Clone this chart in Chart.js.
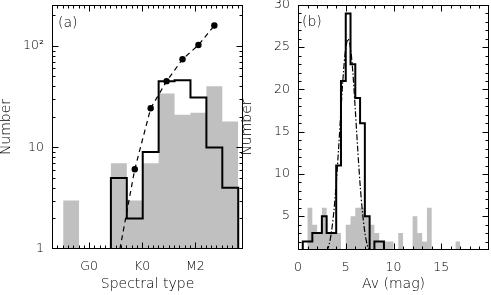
<!DOCTYPE html>
<html><head><meta charset="utf-8">
<script src="https://cdn.jsdelivr.net/npm/chart.js@4.4.1/dist/chart.umd.min.js"></script>
<style>
html,body{margin:0;padding:0;background:#fff;}
#wrap{position:relative;width:491px;height:295px;overflow:hidden;background:#fff;}
.box{position:absolute;top:0;height:295px;}
#ba{left:0;width:250px;}
#bb{left:241px;width:250px;}
canvas{display:block;}
</style></head><body>
<div id="wrap"><div class="box" id="ba"><canvas id="ca" width="250" height="295" style="width:250px;height:295px"></canvas></div><div class="box" id="bb"><canvas id="cb" width="250" height="295" style="width:250px;height:295px"></canvas></div></div>
<script>
// ---------- Panel (a): spectral type ----------
const specCenters = [-3.4, -0.4, 2.6, 5.6, 8.6, 11.6, 14.6, 17.6, 20.6, 23.6, 26.6];
const specGray    = [3, 0, 0, 7, 3, 7, 34, 21, 22, 40, 18];
const specBlack   = [0, 0, 0, 5, 2, 9, 45, 46, 31, 10, 4];
const modelX      = [5.8, 8.6, 11.6, 14.6, 17.6, 20.6, 23.6];
const modelY      = [1, 6.1, 24.3, 45, 74, 102, 159];
const modelDot    = [false, true, true, true, true, true, true];
const specTickValues = [0, 10, 20];
const specTickLabels = ['G0', 'K0', 'M2'];
const logTickValues  = [1, 10, 100];
const logTickLabels  = ['1', '10', '10²'];

// ---------- Panel (b): extinction ----------
const avBinStarts = [0,0.5,1,1.5,2,2.5,3,3.5,4,4.5,5,5.5,6,6.5,7,7.5,8,8.5,9,9.5,10,10.5,11,11.5,12,12.5,13,13.5,14,14.5,15,15.5,16,16.5];
const avGray      = [0,0,6,4,3,6,3,3,3,0,4,5,6,6,5,4,3,2,2,2,0,3,0,0,5,3,2,6,0,0,0,0,0,2];
const avBlack     = [0,2,2,3,3,5,3,3,11,21,29,23,19,16,5,0,2,2];
const fitX = [3,3.25,3.5,3.75,4,4.25,4.5,4.75,5,5.25,5.5,5.75,6,6.25,6.5,6.75,7,7.25,7.5];
const fitY = [0.8,1.6,3.1,5.5,8.8,13,17.6,21.9,24.9,26,24.9,21.9,17.6,13,8.8,5.5,3.1,1.6,0.8];
const avTickValues  = [0, 5, 10, 15];
const numTickValues = [5, 10, 15, 20, 25, 30];

const FONT = 'DejaVu Sans';
const TXT = '#000';
const GRAY = '#c0c0c0';

function fillPath(starts, counts, width, floor) {
  const pts = [{x: starts[0], y: floor}];
  starts.forEach((s, i) => {
    const v = counts[i] > 0 ? counts[i] : floor;
    pts.push({x: s, y: v}, {x: s + width, y: v});
  });
  pts.push({x: starts[starts.length - 1] + width, y: floor});
  return pts;
}
function stepPath(startX, starts, counts, width, floor) {
  const pts = [];
  starts.forEach((s, i) => {
    const v = counts[i] > 0 ? counts[i] : floor;
    pts.push({x: i === 0 ? startX : s, y: v}, {x: s + width, y: v});
  });
  pts.push({x: starts[starts.length - 1] + width, y: floor});
  return pts;
}
function range(a, b, st) { const r = []; for (let v = a; v <= b + 1e-9; v += st) r.push(+v.toFixed(6)); return r; }

const framePlugin = {
  id: 'frame',
  afterDatasetsDraw(chart, args, o) {
    const {ctx, chartArea: a} = chart;
    const xs = chart.scales.x, ys = chart.scales.y;
    const L = Math.round(a.left) + 0.5, R = Math.round(a.right) - 0.5;
    const T = Math.round(a.top) + 0.5, B = Math.round(a.bottom) - 0.5;
    ctx.save();
    ctx.strokeStyle = '#000';
    ctx.lineWidth = 1;
    ctx.beginPath();
    const tx = (vals, len) => vals.forEach(v => {
      const p = Math.round(xs.getPixelForValue(v)) + 0.5;
      if (p < L + 1 || p > R - 1) return;
      ctx.moveTo(p, B); ctx.lineTo(p, B - len);
      ctx.moveTo(p, T); ctx.lineTo(p, T + len);
    });
    const ty = (vals, len) => vals.forEach(v => {
      const p = Math.round(ys.getPixelForValue(v)) + 0.5;
      if (p < T + 1 || p > B - 1) return;
      ctx.moveTo(L, p); ctx.lineTo(L + len, p);
      ctx.moveTo(R, p); ctx.lineTo(R - len, p);
    });
    tx(o.xMajor, 6); tx(o.xMinor, 3);
    ty(o.yMajor, 6); ty(o.yMinor, 3);
    ctx.stroke();
    ctx.strokeRect(L, T, R - L, B - T);
    ctx.fillStyle = TXT;
    ctx.font = '300 14px "' + FONT + '"';
    ctx.textBaseline = 'middle';
    ctx.textAlign = 'left';
    ctx.fillText(o.label, a.left + o.labelDx, a.top + o.labelDy);
    ctx.restore();
  }
};

function fixAxis(size, horiz) {
  return s => {
    if (horiz) s.height = size; else s.width = size;
    s.paddingTop = 0; s.paddingBottom = 0; s.paddingLeft = 0; s.paddingRight = 0;
  };
}
const tickFont = {family: FONT, size: 12.5, weight: '300'};
const titleFont = {family: FONT, size: 14, weight: '300'};
const ytitleFont = {family: FONT, size: 14, weight: '300', lineHeight: 0.85};

// ----- Chart (a) -----
new Chart(document.getElementById('ca'), {
  type: 'line',
  data: {
    datasets: [
      {
        data: modelX.map((x, i) => ({x, y: modelY[i]})),
        borderColor: '#000', borderWidth: 1.2, borderDash: [5, 4],
        pointRadius: modelDot.map(d => d ? 3.2 : 0),
        pointBackgroundColor: '#000', pointBorderWidth: 0,
        fill: false, order: 0
      },
      {
        data: stepPath(specCenters[0], specCenters.map(c => c - 1.5), specBlack, 3, 1),
        borderColor: '#000', borderWidth: 2, pointRadius: 0, fill: false, order: 1,
        borderJoinStyle: 'miter'
      },
      {
        data: fillPath(specCenters.map(c => c - 1.5), specGray, 3, 1),
        borderWidth: 0, borderColor: 'rgba(0,0,0,0)', backgroundColor: GRAY,
        pointRadius: 0, fill: 'start', order: 2
      }
    ]
  },
  options: {
    responsive: false, animation: false, devicePixelRatio: 1,
    layout: {padding: {left: 0, right: 7, top: 5, bottom: 0}},
    plugins: {
      legend: {display: false}, tooltip: {enabled: false},
      frame: {
        xMajor: specTickValues, xMinor: range(-7, 29, 1),
        yMajor: logTickValues,
        yMinor: [2,3,4,5,6,7,8,9,20,30,40,50,60,70,80,90,200],
        label: '(a)', labelDx: 6, labelDy: 18
      }
    },
    scales: {
      x: {
        type: 'linear', min: -7, max: 29,
        grid: {display: false, drawTicks: false}, border: {display: false},
        afterBuildTicks: s => { s.ticks = specTickValues.map(v => ({value: v})); },
        afterFit: fixAxis(46, true),
        ticks: {callback: (v, i) => specTickLabels[i], padding: 10, autoSkip: false, maxRotation: 0,
                font: tickFont, color: TXT},
        title: {display: true, text: 'Spectral type', font: titleFont, color: TXT,
                padding: {top: 0, bottom: 2}}
      },
      y: {
        type: 'logarithmic', min: 1, max: 253,
        grid: {display: false, drawTicks: false}, border: {display: false},
        afterBuildTicks: s => { s.ticks = logTickValues.map(v => ({value: v})); },
        afterFit: fixAxis(52, false),
        ticks: {callback: (v, i) => logTickLabels[i], padding: 8, autoSkip: false,
                font: tickFont, color: TXT},
        title: {display: true, text: 'Number', font: ytitleFont, color: TXT,
                padding: {top: 0, bottom: 0}}
      }
    }
  },
  plugins: [framePlugin]
});

// ----- Chart (b) -----
new Chart(document.getElementById('cb'), {
  type: 'line',
  data: {
    datasets: [
      {
        data: fitX.map((x, i) => ({x, y: fitY[i]})),
        borderColor: '#000', borderWidth: 1.2, borderDash: [6, 2, 1.5, 2],
        pointRadius: 0, fill: false, tension: 0.3, order: 0
      },
      {
        data: stepPath(avBinStarts[0], avBinStarts.slice(0, avBlack.length), avBlack, 0.5, 1),
        borderColor: '#000', borderWidth: 2, pointRadius: 0, fill: false, order: 1,
        borderJoinStyle: 'miter'
      },
      {
        data: fillPath(avBinStarts, avGray, 0.5, 1),
        borderWidth: 0, borderColor: 'rgba(0,0,0,0)', backgroundColor: GRAY,
        pointRadius: 0, fill: 'start', order: 2
      }
    ]
  },
  options: {
    responsive: false, animation: false, devicePixelRatio: 1,
    layout: {padding: {left: 0, right: 2, top: 5, bottom: 0}},
    plugins: {
      legend: {display: false}, tooltip: {enabled: false},
      frame: {
        xMajor: avTickValues, xMinor: range(1, 19, 1),
        yMajor: numTickValues, yMinor: range(2, 29, 1),
        label: '(b)', labelDx: 4, labelDy: 17
      }
    },
    scales: {
      x: {
        type: 'linear', min: 0, max: 20,
        grid: {display: false, drawTicks: false}, border: {display: false},
        afterBuildTicks: s => { s.ticks = avTickValues.map(v => ({value: v})); },
        afterFit: fixAxis(45, true),
        ticks: {callback: v => String(v), padding: 10, autoSkip: false, maxRotation: 0,
                font: tickFont, color: TXT},
        title: {display: true, text: 'Av (mag)', font: titleFont, color: TXT,
                padding: {top: 0, bottom: 2}}
      },
      y: {
        type: 'linear', min: 1, max: 30,
        grid: {display: false, drawTicks: false}, border: {display: false},
        afterBuildTicks: s => { s.ticks = numTickValues.map(v => ({value: v})); },
        afterFit: fixAxis(57, false),
        ticks: {callback: v => String(v), padding: 8, autoSkip: false,
                font: tickFont, color: TXT},
        title: {display: true, text: 'Number', font: ytitleFont, color: TXT,
                padding: {top: 0, bottom: 0}}
      }
    }
  },
  plugins: [framePlugin]
});
</script>
</body></html>
